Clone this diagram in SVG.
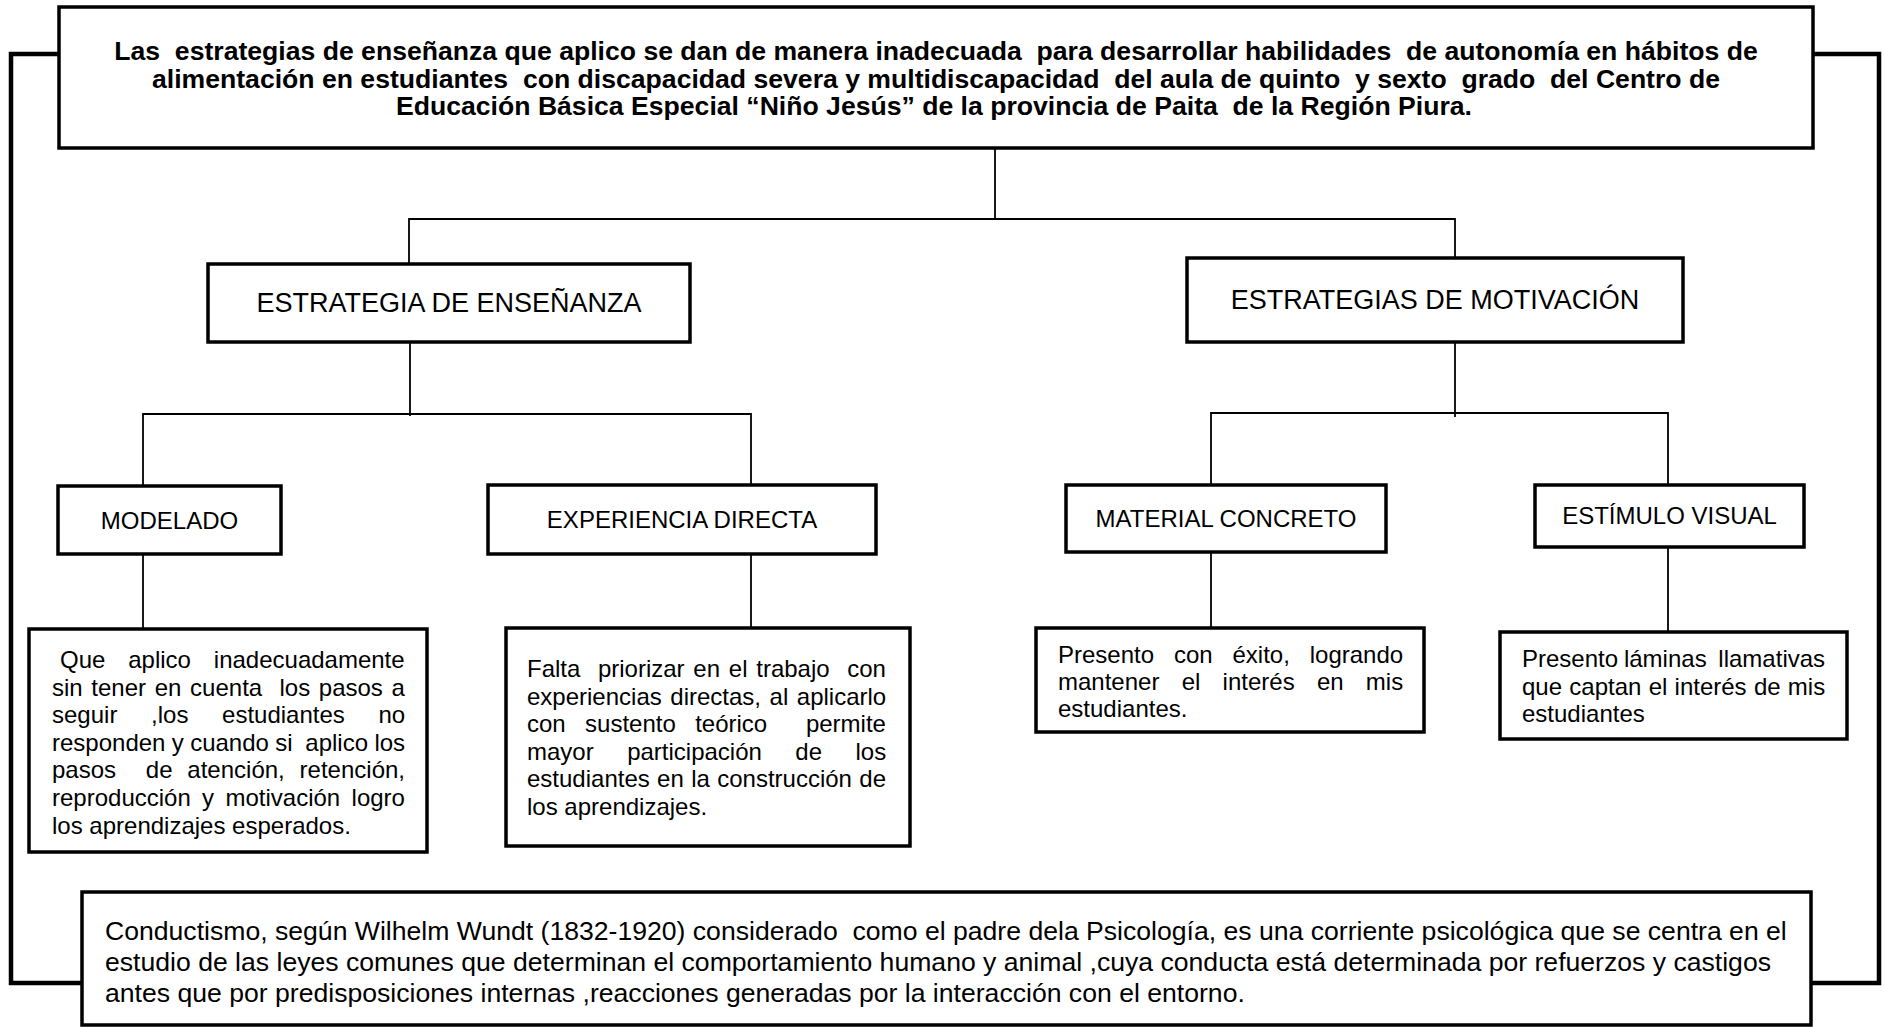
<svg xmlns="http://www.w3.org/2000/svg" width="1885" height="1027" viewBox="0 0 1885 1027">
<style>
.box{fill:#fff;stroke:#000;stroke-width:3.5}
.conn{stroke:#000;stroke-width:1.8;fill:none}
.br{stroke:#000;stroke-width:4.5;fill:none}
text{font-family:"Liberation Sans",Arial,sans-serif;fill:#000}
.title{font-size:26.6px;font-weight:bold;text-anchor:middle}
.l1{font-size:27px;text-anchor:middle}
.l2{font-size:24px;text-anchor:middle}
.p{font-size:24px}
.pb{font-size:26.6px}
</style>
<rect width="1885" height="1027" fill="#fff"/>
<g id="connectors">
<path class="br" d="M59,54 H11 V983 H82"/>
<path class="br" d="M1813,54 H1879 V983 H1811"/>
<path class="conn" d="M995,148 V219"/>
<path class="conn" d="M409,264 V219 H1455 V258"/>
<path class="conn" d="M410,342 V416"/>
<path class="conn" d="M143,486 V414 H751 V485"/>
<path class="conn" d="M143,554 V629"/>
<path class="conn" d="M751,554 V628"/>
<path class="conn" d="M1455,342 V417"/>
<path class="conn" d="M1211,485 V413 H1668 V485"/>
<path class="conn" d="M1211,552 V628"/>
<path class="conn" d="M1668,547 V632"/>
</g>
<g id="problema">
<rect class="box" x="59" y="7" width="1754" height="141"/>
<text class="title" xml:space="preserve"><tspan x="936" y="60">Las  estrategias de enseñanza que aplico se dan de manera inadecuada  para desarrollar habilidades  de autonomía en hábitos de</tspan><tspan x="936" y="87.7">alimentación en estudiantes  con discapacidad severa y multidiscapacidad  del aula de quinto  y sexto  grado  del Centro de</tspan><tspan x="934" y="115.4">Educación Básica Especial “Niño Jesús” de la provincia de Paita  de la Región Piura.</tspan></text>
</g>
<g id="estrategia-ensenanza">
<rect class="box" x="208" y="264" width="482" height="78"/>
<text class="l1" x="449" y="312">ESTRATEGIA DE ENSEÑANZA</text>
</g>
<g id="estrategias-motivacion">
<rect class="box" x="1187" y="258" width="496" height="84"/>
<text class="l1" x="1435" y="309">ESTRATEGIAS DE MOTIVACIÓN</text>
</g>
<g id="modelado">
<rect class="box" x="58" y="486" width="223" height="68"/>
<text class="l2" x="169.5" y="529">MODELADO</text>
</g>
<g id="experiencia-directa">
<rect class="box" x="488" y="485" width="388" height="69"/>
<text class="l2" x="682" y="528">EXPERIENCIA DIRECTA</text>
</g>
<g id="material-concreto">
<rect class="box" x="1066" y="485" width="320" height="67"/>
<text class="l2" x="1226" y="527">MATERIAL CONCRETO</text>
</g>
<g id="estimulo-visual">
<rect class="box" x="1535" y="485" width="269" height="62"/>
<text class="l2" x="1669.5" y="524">ESTÍMULO VISUAL</text>
</g>
<g id="desc-modelado">
<rect class="box" x="29" y="629" width="398" height="223"/>
<text class="p" xml:space="preserve"><tspan x="60" y="668" word-spacing="16.2">Que aplico inadecuadamente</tspan><tspan x="52" y="695.6" word-spacing="2">sin tener en cuenta  los pasos a</tspan><tspan x="52" y="723.2" word-spacing="27">seguir ,los estudiantes no</tspan><tspan x="52" y="750.8" word-spacing="-0.3">responden y cuando si  aplico los</tspan><tspan x="52" y="778.4" word-spacing="8.2">pasos  de atención, retención,</tspan><tspan x="52" y="806" word-spacing="4.7">reproducción y motivación logro</tspan><tspan x="52" y="833.6">los aprendizajes esperados.</tspan></text>
</g>
<g id="desc-experiencia">
<rect class="box" x="506" y="628" width="404" height="218"/>
<text class="p" xml:space="preserve"><tspan x="527" y="677" word-spacing="2.1">Falta  priorizar en el trabajo  con</tspan><tspan x="527" y="704.6" word-spacing="1.9">experiencias directas, al aplicarlo</tspan><tspan x="527" y="732.2" word-spacing="12.7">con sustento teórico  permite</tspan><tspan x="527" y="759.8" word-spacing="26.8">mayor participación de los</tspan><tspan x="527" y="787.4" word-spacing="0.7">estudiantes en la construcción de</tspan><tspan x="527" y="815">los aprendizajes.</tspan></text>
</g>
<g id="desc-material">
<rect class="box" x="1036" y="628" width="388" height="104"/>
<text class="p" xml:space="preserve"><tspan x="1058" y="663" word-spacing="13.2">Presento con éxito, logrando</tspan><tspan x="1058" y="690" word-spacing="15.6">mantener el interés en mis</tspan><tspan x="1058" y="717">estudiantes.</tspan></text>
</g>
<g id="desc-estimulo">
<rect class="box" x="1500" y="632" width="347" height="107"/>
<text class="p" xml:space="preserve"><tspan x="1522" y="667" word-spacing="-0.8">Presento láminas  llamativas</tspan><tspan x="1522" y="694.5" word-spacing="0.6">que captan el interés de mis</tspan><tspan x="1522" y="722">estudiantes</tspan></text>
</g>
<g id="conductismo">
<rect class="box" x="82" y="892" width="1729" height="133"/>
<text class="pb" xml:space="preserve"><tspan x="105" y="939.5">Conductismo, según Wilhelm Wundt (1832-1920) considerado  como el padre dela Psicología, es una corriente psicológica que se centra en el</tspan><tspan x="105" y="970.5">estudio de las leyes comunes que determinan el comportamiento humano y animal ,cuya conducta está determinada por refuerzos y castigos</tspan><tspan x="105" y="1001.5">antes que por predisposiciones internas ,reacciones generadas por la interacción con el entorno.</tspan></text>
</g>
</svg>
